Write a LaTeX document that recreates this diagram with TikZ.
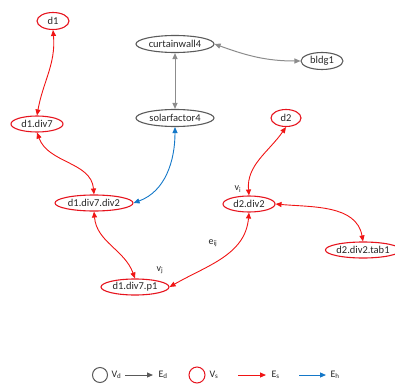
\documentclass[tikz,border=0pt]{standalone}
\usepackage{fontspec}
\setmainfont{Carlito}
\usetikzlibrary{shapes.geometric,arrows.meta}
\definecolor{vdgray}{RGB}{90,90,90}
\definecolor{edgray}{RGB}{140,140,140}
\definecolor{vsred}{RGB}{230,20,30}
\definecolor{esred}{RGB}{240,20,20}
\definecolor{ehblue}{RGB}{20,120,200}
\tikzset{
  vd/.style={ellipse,draw=vdgray,line width=1.1pt,inner sep=0pt,minimum height=17pt,font=\fontsize{10.5}{10.5}\selectfont,text=black!85},
  vs/.style={ellipse,draw=vsred,line width=1.1pt,inner sep=0pt,minimum height=17pt,font=\fontsize{10.5}{10.5}\selectfont,text=black!85},
  ed/.style={draw=edgray,line width=1pt,{Triangle[length=6pt,width=5pt]}-{Triangle[length=6pt,width=5pt]}},
  es/.style={draw=esred,line width=0.9pt,{Triangle[length=6pt,width=5pt]}-{Triangle[length=6pt,width=5pt]}},
  eh/.style={draw=ehblue,line width=0.9pt,{Triangle[length=6pt,width=5pt]}-{Triangle[length=6pt,width=5pt]}},
  lbl/.style={font=\fontsize{10}{10}\selectfont,text=black!85},
}
\begin{document}
\begin{tikzpicture}[x=1pt,y=-1pt]
\useasboundingbox (0,0) rectangle (395,385);
\node[vs,minimum width=32pt] (d1) at (53,21) {d1};
\node[vd,minimum width=78pt] (cw) at (175,44) {curtainwall4};
\node[vd,minimum width=42pt] (bldg) at (322,61) {bldg1};
\node[vs,minimum width=52pt,minimum height=16pt] (d1div7) at (37,124) {d1.div7};
\node[vd,minimum width=78pt] (sf) at (175,118) {solarfactor4};
\node[vs,minimum width=30pt] (d2) at (286,118) {d2};
\node[vs,minimum width=78pt,minimum height=16pt] (d1div7div2) at (94,203) {d1.div7.div2};
\node[vs,minimum width=52pt,minimum height=16pt] (d2div2) at (249,204) {d2.div2};
\node[vs,minimum width=70pt,minimum height=16pt] (tab1) at (363,250) {d2.div2.tab1};
\node[vs,minimum width=68pt,minimum height=16pt] (p1) at (135,287) {d1.div7.p1};

\node[lbl] (vi) at (238,189) {v\textsubscript{i}};
\node[lbl] (vj) at (160,270) {v\textsubscript{j}};
\node[lbl] (eij) at (213,243) {e\textsubscript{ij}};

\draw[es] (d1.south) to[out=-85,in=80] (d1div7.north);
\draw[es] (d1div7.south) to[out=-70,in=95] (d1div7div2.north);
\draw[es] (d1div7div2.south) to[out=-85,in=110] (p1.north);
\draw[es] (p1.east) to[out=30,in=-95] (d2div2.south);
\draw[es] (d2.south) to[out=-125,in=95] (d2div2.north);
\draw[es] (d2div2.east) to[out=-5,in=100] (tab1.north);
\draw[ed] (cw.south) -- (sf.north);
\draw[ed] (cw.east) to[out=-20,in=180] (bldg.west);
\draw[eh] (sf.south) to[out=-90,in=20] (d1div7div2.east);

% legend
\node[circle,draw=vdgray,line width=1pt,minimum size=15pt,inner sep=0pt] (lvd) at (100,375) {};
\node[lbl,anchor=west] (lvdt) at (108,375) {V\textsubscript{d}};
\coordinate (led1) at (125,375);
\coordinate (led2) at (153,375);
\draw[draw=vdgray,line width=1pt,-{Triangle[length=6pt,width=5pt]}] (led1) -- (led2);
\node[lbl,anchor=west] (ledt) at (155,375) {E\textsubscript{d}};
\node[circle,draw=vsred,line width=1pt,minimum size=16pt,inner sep=0pt] (lvs) at (197,375) {};
\node[lbl,anchor=west] (lvst) at (206,375) {V\textsubscript{s}};
\coordinate (les1) at (238,375);
\coordinate (les2) at (266,375);
\draw[draw=esred,line width=1pt,-{Triangle[length=6pt,width=5pt]}] (les1) -- (les2);
\node[lbl,anchor=west] (lest) at (268,375) {E\textsubscript{s}};
\coordinate (leh1) at (299,375);
\coordinate (leh2) at (326,375);
\draw[draw=ehblue,line width=1pt,-{Triangle[length=6pt,width=5pt]}] (leh1) -- (leh2);
\node[lbl,anchor=west] (leht) at (327,375) {E\textsubscript{h}};
\end{tikzpicture}
\end{document}
